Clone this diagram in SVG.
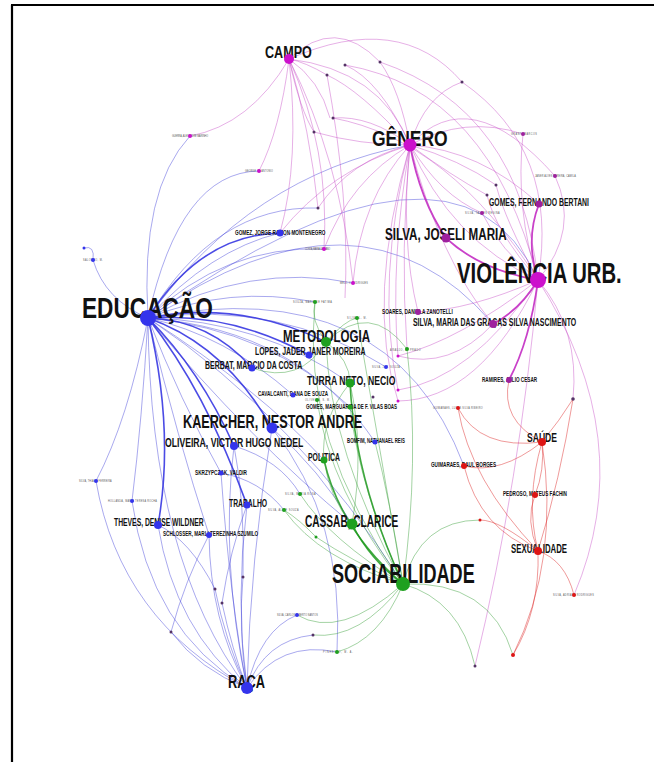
<svg xmlns="http://www.w3.org/2000/svg" width="654" height="762" viewBox="0 0 654 762">
<style>
.e{fill:none;stroke-width:0.8}
.b{stroke:#3a3ad8;stroke-opacity:.55}
.bt{stroke:#2c2ce0;stroke-opacity:.85;stroke-width:1.6}
.m{stroke:#c64ac6;stroke-opacity:.55}
.mt{stroke:#c020c0;stroke-opacity:.85;stroke-width:1.8}
.g{stroke:#2f9a2f;stroke-opacity:.55}
.gt{stroke:#1f9a1f;stroke-opacity:.85;stroke-width:1.6}
.r{stroke:#dd2a2a;stroke-opacity:.6}
.l{font-family:"Liberation Sans",Arial,sans-serif;font-weight:bold;fill:#111}
.t{font-family:"Liberation Sans",Arial,sans-serif;font-size:3.5px;fill:#555}
.nb{fill:#3434ec}.nm{fill:#cc10cc}.np{fill:#9e209e}.ng{fill:#1fa01f}.nr{fill:#dd1515}.nd{fill:#553366}
</style>
<rect width="654" height="762" fill="#fff"/>
<path d="M11,5H654M12,5V762" stroke="#000" stroke-width="2.2" fill="none"/>
<g id="edges">
<path class="e b" d="M148,318 Q140,190 190,136"/>
<path class="e b" d="M148,318 Q180,172 259,171"/>
<path class="e bt" d="M148,318 Q200,235 280,233"/>
<path class="e b" d="M148,318 Q210,250 280,233"/>
<path class="e b" d="M148,318 Q225,245 324,249"/>
<path class="e b" d="M148,318 Q215,205 318,208"/>
<path class="e b" d="M148,318 Q250,175 410,145"/>
<path class="e b" d="M148,318 Q457,101 538,280"/>
<path class="e b" d="M148,318 Q360,169 493,324"/>
<path class="e b" d="M148,318 Q250,262 353,283"/>
<path class="e b" d="M148,318 Q230,285 315,302"/>
<path class="e bt" d="M148,318 Q240,300 326,342"/>
<path class="e bt" d="M148,318 Q230,312 309,355"/>
<path class="e bt" d="M148,318 Q210,320 252,368"/>
<path class="e b" d="M148,318 Q260,320 350,383"/>
<path class="e b" d="M148,318 Q225,335 293,395"/>
<path class="e b" d="M148,318 Q280,300 386,367"/>
<path class="e b" d="M148,318 Q270,330 350,407"/>
<path class="e b" d="M148,318 Q300,330 375,442"/>
<path class="e b" d="M148,318 Q390,270 464,466"/>
<path class="e bt" d="M148,318 Q225,345 272,428"/>
<path class="e bt" d="M148,318 Q200,370 234,446"/>
<path class="e b" d="M148,318 Q180,400 221,473"/>
<path class="e bt" d="M148,318 Q205,390 247,505"/>
<path class="e bt" d="M148,318 Q175,430 158,525"/>
<path class="e b" d="M148,318 Q178,440 209,535"/>
<path class="e b" d="M148,318 Q128,420 96,481"/>
<path class="e b" d="M148,318 Q142,420 132,501"/>
<path class="e b" d="M148,318 Q150,560 247,688"/>
<path class="e b" d="M84,248 Q95,245 93,260"/>
<path class="e b" d="M93,260 Q105,300 148,318"/>
<path class="e b" d="M148,318 Q300,420 403,584"/>
<path class="e b" d="M148,318 Q250,440 352,524"/>
<path class="e b" d="M148,318 Q260,390 324,460"/>
<path class="e b" d="M272,428 Q250,560 247,688"/>
<path class="e b" d="M234,446 Q220,560 247,688"/>
<path class="e b" d="M247,505 Q235,600 247,688"/>
<path class="e b" d="M158,525 Q175,630 247,688"/>
<path class="e b" d="M209,535 Q210,620 247,688"/>
<path class="e b" d="M96,481 Q120,620 247,688"/>
<path class="e b" d="M132,501 Q150,630 247,688"/>
<path class="e b" d="M215,589 Q225,640 247,688"/>
<path class="e b" d="M222,603 Q232,650 247,688"/>
<path class="e b" d="M243,577 Q238,630 247,688"/>
<path class="e b" d="M171,632 Q200,670 247,688"/>
<path class="e b" d="M171,632 Q185,580 209,535"/>
<path class="e b" d="M297,615 Q260,630 247,688"/>
<path class="e b" d="M313,635 Q265,640 247,688"/>
<path class="e b" d="M337,652 Q280,640 247,688"/>
<path class="e b" d="M221,473 Q230,600 247,688"/>
<path class="e b" d="M243,577 Q245,500 234,446"/>
<path class="e b" d="M215,589 Q190,540 158,525"/>
<path class="e b" d="M222,603 Q230,550 247,505"/>
<path class="e b" d="M337,652 Q345,520 272,428"/>
<path class="e b" d="M272,428 Q320,470 352,524"/>
<path class="e b" d="M234,446 Q280,460 300,494"/>
<path class="e b" d="M221,473 Q260,480 284,510"/>
<path class="e m" d="M289,59 Q250,125 190,136"/>
<path class="e m" d="M289,59 Q280,130 259,171"/>
<path class="e m" d="M289,59 Q300,160 280,233"/>
<path class="e m" d="M289,59 Q310,130 318,208"/>
<path class="e m" d="M289,59 Q330,150 324,249"/>
<path class="e m" d="M289,59 Q300,110 314,132"/>
<path class="e m" d="M289,59 Q320,80 330,118"/>
<path class="e m" d="M289,59 Q305,62 327,75"/>
<path class="e m" d="M289,59 Q340,160 353,283"/>
<path class="e m" d="M289,59 Q380,70 410,145"/>
<path class="e m" d="M289,59 Q335,15 380,62"/>
<path class="e m" d="M289,59 Q400,10 462,82"/>
<path class="e m" d="M410,145 Q360,90 327,75"/>
<path class="e m" d="M410,145 Q380,80 345,65"/>
<path class="e m" d="M410,145 Q400,90 380,62"/>
<path class="e m" d="M410,145 Q425,95 462,82"/>
<path class="e m" d="M410,145 Q370,115 333,118"/>
<path class="e m" d="M410,145 Q360,145 314,132"/>
<path class="e m" d="M410,145 Q450,240 538,280"/>
<path class="e mt" d="M410,145 Q420,200 446,238"/>
<path class="e m" d="M410,145 Q480,150 539,204"/>
<path class="e m" d="M410,145 Q465,115 523,134"/>
<path class="e m" d="M410,145 Q470,80 555,176"/>
<path class="e m" d="M410,145 Q460,160 496,185"/>
<path class="e m" d="M410,145 Q450,175 487,195"/>
<path class="e m" d="M410,145 Q440,195 482,213"/>
<path class="e m" d="M410,145 Q400,240 418,312"/>
<path class="e m" d="M410,145 Q440,260 493,324"/>
<path class="e m" d="M410,145 Q360,200 353,283"/>
<path class="e m" d="M410,145 Q350,180 324,249"/>
<path class="e m" d="M410,145 Q350,160 318,208"/>
<path class="e m" d="M410,145 Q330,170 280,233"/>
<path class="e m" d="M410,145 Q390,260 398,356"/>
<path class="e m" d="M410,145 Q375,280 398,390"/>
<path class="e m" d="M410,145 Q365,300 398,401"/>
<path class="e m" d="M410,145 Q400,250 407,349"/>
<path class="e mt" d="M538,280 Q480,270 446,238"/>
<path class="e mt" d="M538,280 Q525,240 539,204"/>
<path class="e mt" d="M538,280 Q520,310 493,324"/>
<path class="e m" d="M538,280 Q470,310 418,312"/>
<path class="e mt" d="M538,280 Q530,340 509,380"/>
<path class="e m" d="M538,280 Q580,230 555,176"/>
<path class="e m" d="M538,280 Q515,210 523,134"/>
<path class="e m" d="M538,280 Q500,250 482,213"/>
<path class="e m" d="M538,280 Q505,220 496,185"/>
<path class="e m" d="M538,280 Q495,230 487,195"/>
<path class="e m" d="M538,280 Q580,330 573,399"/>
<path class="e m" d="M538,280 Q640,440 574,595"/>
<path class="e m" d="M538,280 Q520,480 475,666"/>
<path class="e m" d="M538,280 Q460,340 398,356"/>
<path class="e m" d="M538,280 Q470,380 398,390"/>
<path class="e m" d="M538,280 Q480,400 398,401"/>
<path class="e m" d="M333,118 Q450,140 538,280"/>
<path class="e m" d="M345,65 Q490,90 538,280"/>
<path class="e m" d="M380,62 Q520,110 538,280"/>
<path class="e m" d="M462,82 Q560,150 538,280"/>
<path class="e m" d="M493,324 Q450,370 398,356"/>
<path class="e m" d="M327,75 Q350,200 345,298"/>
<path class="e r" d="M542,442 Q500,475 464,466"/>
<path class="e r" d="M542,442 Q480,450 458,408"/>
<path class="e r" d="M542,442 Q500,420 509,380"/>
<path class="e r" d="M542,442 Q545,470 535,495"/>
<path class="e r" d="M542,442 Q525,500 538,551"/>
<path class="e r" d="M542,442 Q560,560 513,655"/>
<path class="e r" d="M538,551 Q525,520 535,495"/>
<path class="e r" d="M538,551 Q480,530 464,466"/>
<path class="e r" d="M538,551 Q565,560 574,595"/>
<path class="e r" d="M538,551 Q500,520 480,520"/>
<path class="e r" d="M538,551 Q470,480 458,408"/>
<path class="e r" d="M538,551 Q540,610 513,655"/>
<path class="e r" d="M573,399 Q560,480 538,551"/>
<path class="e r" d="M573,399 Q560,420 542,442"/>
<path class="e gt" d="M403,584 Q370,560 352,524"/>
<path class="e gt" d="M403,584 Q340,530 324,460"/>
<path class="e g" d="M403,584 Q330,450 326,342"/>
<path class="e gt" d="M403,584 Q355,480 350,383"/>
<path class="e g" d="M403,584 Q360,490 350,407"/>
<path class="e g" d="M403,584 Q330,490 317,400"/>
<path class="e g" d="M403,584 Q380,450 357,318"/>
<path class="e g" d="M403,584 Q300,440 315,302"/>
<path class="e g" d="M403,584 Q420,460 407,349"/>
<path class="e g" d="M403,584 Q330,540 300,494"/>
<path class="e g" d="M403,584 Q320,560 284,510"/>
<path class="e g" d="M403,584 Q350,560 316,537"/>
<path class="e g" d="M403,584 Q340,640 297,615"/>
<path class="e g" d="M403,584 Q360,640 313,635"/>
<path class="e g" d="M403,584 Q380,640 337,652"/>
<path class="e g" d="M403,584 Q420,520 480,520"/>
<path class="e g" d="M403,584 Q460,600 475,666"/>
<path class="e g" d="M403,584 Q490,580 513,655"/>
<path class="e g" d="M403,584 Q390,500 375,442"/>
<path class="e g" d="M326,342 Q310,320 315,302"/>
<path class="e g" d="M326,342 Q350,360 350,383"/>
<path class="e g" d="M252,368 Q300,385 326,342"/>
<path class="e g" d="M326,342 Q345,320 357,318"/>
<path class="e g" d="M326,342 Q370,300 407,349"/>
<path class="e g" d="M350,383 Q320,420 324,460"/>
<path class="e g" d="M352,524 Q330,500 324,460"/>
<path class="e g" d="M352,524 Q365,450 350,383"/>
<path class="e g" d="M316,537 Q300,520 284,510"/>
</g>
<g id="n-educacao"><text class="l" transform="translate(82,318) scale(0.756,1)" font-size="30" textLength="173" lengthAdjust="spacingAndGlyphs">EDUCAÇÃO</text><circle class="nb" cx="148" cy="318" r="8"/></g>
<g id="n-campo"><text class="l" transform="translate(265,58) scale(0.743,1)" font-size="17" textLength="63" lengthAdjust="spacingAndGlyphs">CAMPO</text><circle class="nm" cx="289" cy="59" r="5"/></g>
<g id="n-genero"><text class="l" transform="translate(372,146) scale(0.797,1)" font-size="22" textLength="95" lengthAdjust="spacingAndGlyphs">GÊNERO</text><circle class="nm" cx="410" cy="145" r="6.5"/></g>
<g id="n-violencia"><text class="l" transform="translate(457,283) scale(0.675,1)" font-size="30" textLength="244" lengthAdjust="spacingAndGlyphs">VIOLÊNCIA URB.</text><circle class="nm" cx="538" cy="280" r="8"/></g>
<g id="n-joseli"><text class="l" transform="translate(385,240) scale(0.676,1)" font-size="17" textLength="180" lengthAdjust="spacingAndGlyphs">SILVA, JOSELI MARIA</text><circle class="np" cx="446" cy="238" r="4.5"/></g>
<g id="n-fernando"><text class="l" transform="translate(489,206) scale(0.68,1)" font-size="10" textLength="147" lengthAdjust="spacingAndGlyphs">GOMES, FERNANDO BERTANI</text><circle class="np" cx="539" cy="204" r="3.5"/></g>
<g id="n-metodologia"><text class="l" transform="translate(283,342) scale(0.677,1)" font-size="17" textLength="128.5" lengthAdjust="spacingAndGlyphs">METODOLOGIA</text><circle class="ng" cx="326" cy="342" r="5"/></g>
<g id="n-lopes"><text class="l" transform="translate(255,355) scale(0.69,1)" font-size="10" textLength="160" lengthAdjust="spacingAndGlyphs">LOPES, JADER JANER MOREIRA</text><circle class="nb" cx="309" cy="355" r="3.5"/></g>
<g id="n-berbat"><text class="l" transform="translate(205,369) scale(0.68,1)" font-size="10" textLength="143" lengthAdjust="spacingAndGlyphs">BERBAT, MARCIO DA COSTA</text><circle class="nb" cx="252" cy="368" r="3.5"/></g>
<g id="n-turra"><text class="l" transform="translate(307,385) scale(0.66,1)" font-size="13" textLength="134" lengthAdjust="spacingAndGlyphs">TURRA NETO, NECIO</text><circle class="ng" cx="350" cy="383" r="4.5"/></g>
<g id="n-cavalcanti"><text class="l" transform="translate(258,396) scale(0.68,1)" font-size="6.5" textLength="103" lengthAdjust="spacingAndGlyphs">CAVALCANTI, DANA DE SOUZA</text><circle class="nb" cx="293" cy="395" r="2.5"/></g>
<g id="n-gomesm"><text class="l" transform="translate(306,409) scale(0.68,1)" font-size="6.4" textLength="134" lengthAdjust="spacingAndGlyphs">GOMES, MARGUARIDA DE F. VILAS BOAS</text><circle class="ng" cx="350" cy="407" r="2.5"/></g>
<g id="n-kaercher"><text class="l" transform="translate(183,428) scale(0.70,1)" font-size="18" textLength="256" lengthAdjust="spacingAndGlyphs">KAERCHER, NESTOR ANDRE</text><circle class="nb" cx="272" cy="428" r="5.5"/></g>
<g id="n-oliveira"><text class="l" transform="translate(165,447) scale(0.72,1)" font-size="12" textLength="192" lengthAdjust="spacingAndGlyphs">OLIVEIRA, VICTOR HUGO NEDEL</text><circle class="nb" cx="234" cy="446" r="4"/></g>
<g id="n-bomfim"><text class="l" transform="translate(347,443) scale(0.68,1)" font-size="6.3" textLength="85" lengthAdjust="spacingAndGlyphs">BOMFIM, NATHANAEL REIS</text><circle class="nb" cx="375" cy="442" r="2.5"/></g>
<g id="n-politica"><text class="l" transform="translate(308,461) scale(0.685,1)" font-size="10" textLength="46.7" lengthAdjust="spacingAndGlyphs">POLITICA</text><circle class="ng" cx="324" cy="460" r="3.5"/></g>
<g id="n-skrzypczak"><text class="l" transform="translate(195,475) scale(0.68,1)" font-size="6.9" textLength="76.5" lengthAdjust="spacingAndGlyphs">SKRZYPCZAK, VALDIR</text><circle class="nb" cx="221" cy="473" r="2.5"/></g>
<g id="n-trabalho"><text class="l" transform="translate(229,507) scale(0.68,1)" font-size="10" textLength="56" lengthAdjust="spacingAndGlyphs">TRABALHO</text><circle class="nb" cx="247" cy="505" r="3.5"/></g>
<g id="n-theves"><text class="l" transform="translate(114,526) scale(0.68,1)" font-size="10" textLength="132" lengthAdjust="spacingAndGlyphs">THEVES, DENISE WILDNER</text><circle class="nb" cx="158" cy="525" r="4"/></g>
<g id="n-schlosser"><text class="l" transform="translate(163,536) scale(0.68,1)" font-size="6.5" textLength="140" lengthAdjust="spacingAndGlyphs">SCHLOSSER, MARLI TEREZINHA SZUMILO</text><circle class="nb" cx="209" cy="535" r="3"/></g>
<g id="n-cassab"><text class="l" transform="translate(305,527) scale(0.63,1)" font-size="16" textLength="148" lengthAdjust="spacingAndGlyphs">CASSAB, CLARICE</text><circle class="ng" cx="352" cy="524" r="5.5"/></g>
<g id="n-sociabilidade"><text class="l" transform="translate(332,583) scale(0.67,1)" font-size="27" textLength="213" lengthAdjust="spacingAndGlyphs">SOCIABILIDADE</text><circle class="ng" cx="403" cy="584" r="7"/></g>
<g id="n-saude"><text class="l" transform="translate(527,442) scale(0.66,1)" font-size="13" textLength="45.5" lengthAdjust="spacingAndGlyphs">SAÚDE</text><circle class="nr" cx="542" cy="442" r="4"/></g>
<g id="n-guimaraes"><text class="l" transform="translate(431,467) scale(0.68,1)" font-size="6.8" textLength="95.6" lengthAdjust="spacingAndGlyphs">GUIMARAES, RAUL BORGES</text><circle class="nr" cx="464" cy="466" r="3"/></g>
<g id="n-pedroso"><text class="l" transform="translate(503,496) scale(0.68,1)" font-size="6.8" textLength="94" lengthAdjust="spacingAndGlyphs">PEDROSO, MATEUS FACHIN</text><circle class="nr" cx="535" cy="495" r="3"/></g>
<g id="n-sexualidade"><text class="l" transform="translate(511,553) scale(0.68,1)" font-size="12" textLength="82.4" lengthAdjust="spacingAndGlyphs">SEXUALIDADE</text><circle class="nr" cx="538" cy="551" r="4"/></g>
<g id="n-soares"><text class="l" transform="translate(382,314) scale(0.68,1)" font-size="6.6" textLength="104" lengthAdjust="spacingAndGlyphs">SOARES, DANIELA ZANOTELLI</text><circle class="np" cx="418" cy="312" r="3"/></g>
<g id="n-silvamaria"><text class="l" transform="translate(413,326) scale(0.68,1)" font-size="10" textLength="240" lengthAdjust="spacingAndGlyphs">SILVA, MARIA DAS GRAÇAS SILVA NASCIMENTO</text><circle class="np" cx="493" cy="324" r="4"/></g>
<g id="n-ramires"><text class="l" transform="translate(482,382) scale(0.68,1)" font-size="6.5" textLength="81" lengthAdjust="spacingAndGlyphs">RAMIRES, JULIO CESAR</text><circle class="np" cx="509" cy="380" r="3"/></g>
<g id="n-gomez"><text class="l" transform="translate(235,235) scale(0.67,1)" font-size="7.5" textLength="135" lengthAdjust="spacingAndGlyphs">GOMEZ, JORGE RAMON MONTENEGRO</text><circle class="nb" cx="280" cy="233" r="3.5"/></g>
<g id="n-raca"><text class="l" transform="translate(228,688) scale(0.71,1)" font-size="18" textLength="52" lengthAdjust="spacingAndGlyphs">RAÇA</text><circle class="nb" cx="247" cy="688" r="6"/></g>
<g id="n-small">
<text class="t" transform="translate(172,137) scale(0.68,1)" textLength="53">GUERRA, ALEXANDRE MARINHO</text><circle class="nm" cx="190" cy="136" r="2"/>
<text class="t" transform="translate(245,172) scale(0.68,1)" textLength="41">GEORGE, M. ANTONIO</text><circle class="nm" cx="259" cy="171" r="2"/>
<text class="t" transform="translate(305,250) scale(0.68,1)" textLength="37">COSTA, MARIA CAETANO</text><circle class="nm" cx="324" cy="249" r="2"/>
<text class="t" transform="translate(83,261) scale(0.68,1)" textLength="29">SALOMAO, M.</text><circle class="nb" cx="93" cy="260" r="2"/><circle class="nb" cx="84" cy="248" r="1.5"/>
<text class="t" transform="translate(340,284) scale(0.68,1)" textLength="41">MELO, V. RODRIGUES</text><circle class="nm" cx="353" cy="283" r="2"/>
<text class="t" transform="translate(293,303) scale(0.68,1)" textLength="57">SOUZA, MARIA DE FATIMA</text><circle class="ng" cx="315" cy="302" r="2"/>
<text class="t" transform="translate(347,319) scale(0.68,1)" textLength="29">SILVA, L. M.</text><circle class="ng" cx="357" cy="318" r="2"/>
<text class="t" transform="translate(390,351) scale(0.68,1)" textLength="45">ARAUJO, A. PRADO</text><circle class="ng" cx="407" cy="349" r="2"/><circle class="nm" cx="398" cy="356" r="1.5"/>
<text class="t" transform="translate(372,368) scale(0.68,1)" textLength="41">SILVA, J. P. SOUZA</text><circle class="nb" cx="386" cy="367" r="2"/>
<text class="t" transform="translate(305,401) scale(0.68,1)" textLength="37">OLIVEIRA, S. M.</text><circle class="ng" cx="317" cy="400" r="2"/>
<circle class="nm" cx="398" cy="390" r="1.5"/><circle class="nm" cx="398" cy="401" r="1.5"/><circle class="nd" cx="373" cy="397" r="1.5"/>
<text class="t" transform="translate(433,409) scale(0.68,1)" textLength="73">GUIMARAES, LUCAS SILVA RIBEIRO</text><circle class="nr" cx="458" cy="408" r="2"/>
<circle class="nd" cx="573" cy="399" r="1.8"/>
<text class="t" transform="translate(511,135) scale(0.68,1)" textLength="38">GRANT, MARCOS</text><circle class="np" cx="523" cy="134" r="2"/>
<text class="t" transform="translate(535,177) scale(0.68,1)" textLength="60">JANER ALVES PEREIRA, CAMILA</text><circle class="np" cx="555" cy="176" r="2"/>
<text class="t" transform="translate(465,214) scale(0.68,1)" textLength="51">SILVA, TALLES REGINA</text><circle class="np" cx="482" cy="213" r="2"/>
<circle class="nd" cx="496" cy="185" r="1.5"/><circle class="nd" cx="487" cy="195" r="1.5"/>
<circle class="nd" cx="327" cy="75" r="1.5"/><circle class="nd" cx="345" cy="65" r="1.5"/><circle class="nd" cx="380" cy="62" r="1.5"/><circle class="nd" cx="462" cy="82" r="1.5"/><circle class="nd" cx="333" cy="118" r="1.5"/><circle class="nd" cx="314" cy="132" r="1.5"/><circle class="nd" cx="318" cy="208" r="1.5"/>
<text class="t" transform="translate(79,482) scale(0.68,1)" textLength="48">SILVA, THIAGO FERREIRA</text><circle class="nb" cx="96" cy="481" r="2"/>
<text class="t" transform="translate(108,502) scale(0.68,1)" textLength="72">HOLLANDA, MARIA TERESA ROCHA</text><circle class="nb" cx="132" cy="501" r="2"/>
<text class="t" transform="translate(285,495) scale(0.68,1)" textLength="45">SILVA, MARIA ROSA</text><circle class="ng" cx="300" cy="494" r="2"/>
<text class="t" transform="translate(268,511) scale(0.68,1)" textLength="45">SILVA, ALINE SOUZA</text><circle class="ng" cx="284" cy="510" r="2"/>
<circle class="ng" cx="316" cy="537" r="1.5"/>
<circle class="nr" cx="480" cy="520" r="1.5"/>
<text class="t" transform="translate(553,596) scale(0.68,1)" textLength="60">SILVA, ADRIANA RODRIGUES</text><circle class="nr" cx="574" cy="595" r="2"/>
<text class="t" transform="translate(277,616) scale(0.68,1)" textLength="60">SILVA, CARLOS ALBERTO SANTOS</text><circle class="nb" cx="297" cy="615" r="2"/>
<circle class="nd" cx="313" cy="635" r="1.5"/>
<text class="t" transform="translate(323,653) scale(0.68,1)" textLength="44">PINHEIRO, M. A.</text><circle class="ng" cx="337" cy="652" r="2"/>
<circle class="nd" cx="215" cy="589" r="1.5"/><circle class="nd" cx="222" cy="603" r="1.5"/><circle class="nd" cx="243" cy="577" r="1.5"/><circle class="nd" cx="171" cy="632" r="1.5"/>
<circle class="nd" cx="475" cy="666" r="1.5"/><circle class="nr" cx="513" cy="655" r="2"/>
</g>
</svg>
